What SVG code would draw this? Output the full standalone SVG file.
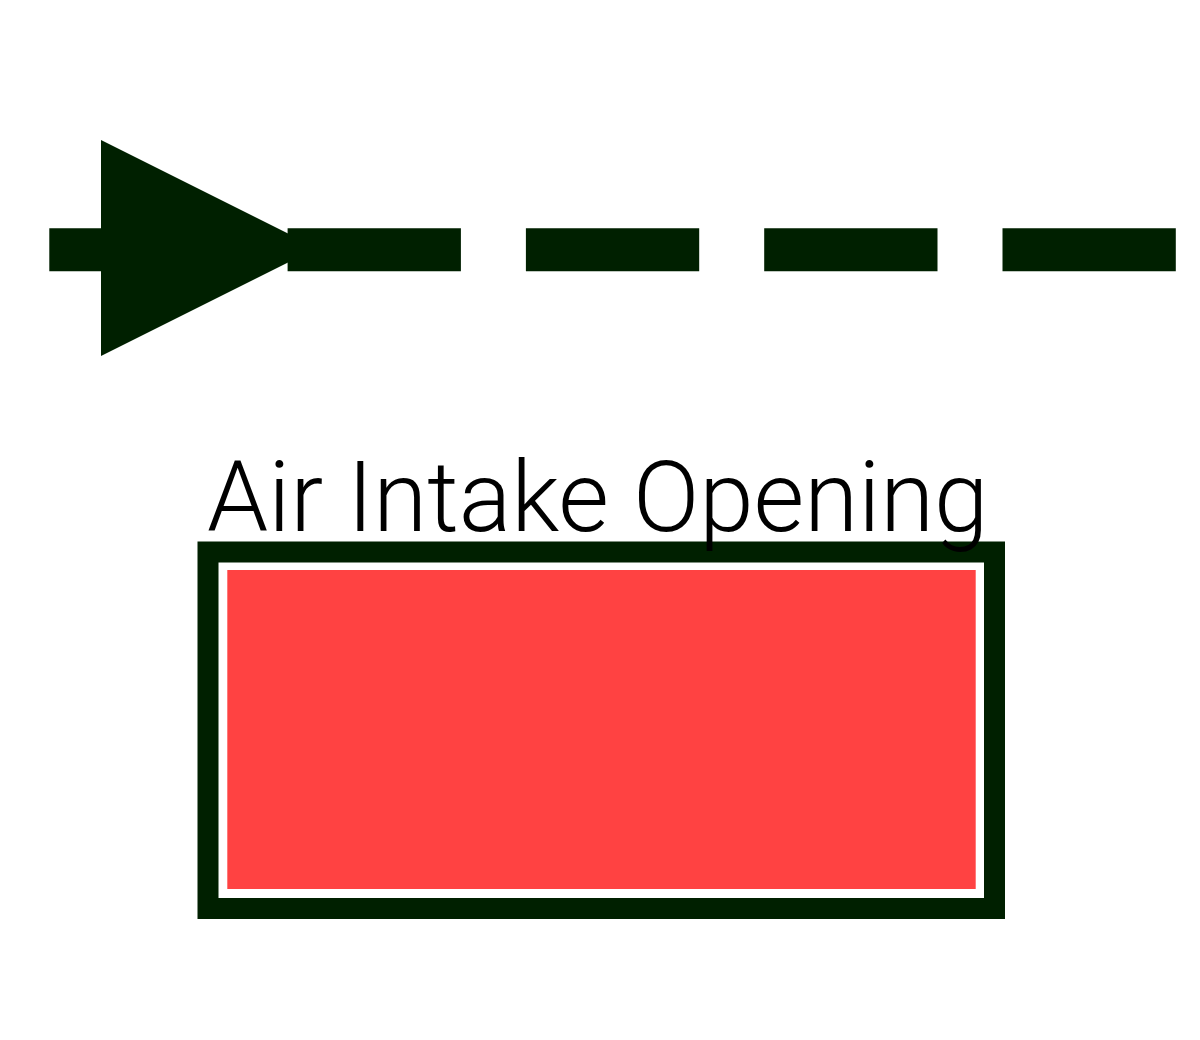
<svg xmlns="http://www.w3.org/2000/svg" width="1200" height="1040" viewBox="0 0 1200 1040">
<style>
.dark{fill:#002000}
.line{stroke:#002000;stroke-width:43;stroke-dasharray:173.3 65;fill:none}
.frame{fill:none;stroke:#002000;stroke-width:21}
.red{fill:#ff4242}
.label{font-family:Roboto,"Liberation Sans",sans-serif;font-weight:300;font-size:98px;fill:#000}
</style>
<rect width="1200" height="1040" fill="#ffffff"/>
<g id="connectors">
<line class="line" x1="49.3" y1="249.8" x2="1177" y2="249.8"/>
<polygon class="dark" points="101,140 317,248 101,356"/>
</g>
<g id="air-intake-opening">
<rect class="frame" x="208" y="552" width="786.5" height="356.5"/>
<rect class="red" x="227.3" y="570" width="748.4" height="319"/>
<text class="label" x="207" y="531">Air Intake Opening</text>
</g>
</svg>
